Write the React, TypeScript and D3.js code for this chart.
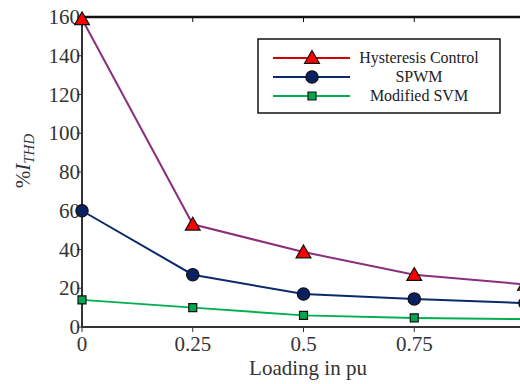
import React, { useEffect, useRef } from 'react';
import * as d3 from 'd3';

const loading = [0, 0.25, 0.5, 0.75, 1];
const hysteresis = [159, 53, 38.7, 27, 22];
const spwm = [60, 27, 17, 14.5, 12.3];
const modifiedSvm = [14, 10, 6, 4.7, 4.1];
const xTicks = [0, 0.25, 0.5, 0.75];
const yTicks = [0, 20, 40, 60, 80, 100, 120, 140, 160];

const W = 520;
const H = 384;
const FONT = "'Liberation Serif', 'Times New Roman', Times, serif";

const App: React.FC = () => {
  const svgRef = useRef<SVGSVGElement>(null);

  useEffect(() => {
    if (!svgRef.current) return;
    const svg = d3.select(svgRef.current);
    svg.selectAll('*').remove();

    const x = d3.scaleLinear().domain([0, 1]).range([82, 525]);
    const y = d3.scaleLinear().domain([0, 160]).range([327, 17]);

    // frame (top border + mirrored ticks)
    svg.append('line')
      .attr('x1', x(0)).attr('x2', 540)
      .attr('y1', y(160)).attr('y2', y(160))
      .attr('stroke', '#111').attr('stroke-width', 2.5);
    svg.append('g')
      .selectAll('line')
      .data(xTicks.slice(1))
      .enter()
      .append('line')
      .attr('x1', d => x(d)).attr('x2', d => x(d))
      .attr('y1', y(160)).attr('y2', y(160) + 5)
      .attr('stroke', '#111').attr('stroke-width', 1);

    // x axis
    const xAxis = svg.append('g').attr('transform', `translate(0,${y(0)})`);
    xAxis.append('line')
      .attr('x1', x(0)).attr('x2', 540)
      .attr('stroke', '#333').attr('stroke-width', 2);
    xAxis.selectAll('line.tick')
      .data(xTicks)
      .enter()
      .append('line')
      .attr('class', 'tick')
      .attr('x1', d => x(d)).attr('x2', d => x(d))
      .attr('y1', 0).attr('y2', 5)
      .attr('stroke', '#333').attr('stroke-width', 1);
    xAxis.selectAll('text')
      .data(xTicks)
      .enter()
      .append('text')
      .attr('x', d => x(d))
      .attr('y', 24)
      .attr('text-anchor', 'middle')
      .attr('font-family', FONT)
      .attr('font-size', 21)
      .attr('fill', '#333')
      .text(d => String(d));

    // y axis
    const yAxis = svg.append('g').attr('transform', `translate(${x(0)},0)`);
    yAxis.append('line')
      .attr('y1', y(0) + 1).attr('y2', y(160))
      .attr('stroke', '#333').attr('stroke-width', 2);
    yAxis.selectAll('line.tick')
      .data(yTicks)
      .enter()
      .append('line')
      .attr('class', 'tick')
      .attr('x1', -5).attr('x2', 0)
      .attr('y1', d => y(d)).attr('y2', d => y(d))
      .attr('stroke', '#333').attr('stroke-width', 1);
    yAxis.selectAll('text')
      .data(yTicks)
      .enter()
      .append('text')
      .attr('x', -2)
      .attr('y', d => y(d) + 7)
      .attr('text-anchor', 'end')
      .attr('font-family', FONT)
      .attr('font-size', 21)
      .attr('fill', '#333')
      .text(d => String(d));

    // axis titles
    svg.append('text')
      .attr('x', 308).attr('y', 375)
      .attr('text-anchor', 'middle')
      .attr('font-family', FONT)
      .attr('font-size', 21)
      .attr('fill', '#333')
      .text('Loading in pu');

    const yl = svg.append('text')
      .attr('transform', 'translate(30,161) rotate(-90)')
      .attr('text-anchor', 'middle')
      .attr('font-family', FONT)
      .attr('font-size', 21)
      .attr('fill', '#333');
    yl.append('tspan').text('%');
    yl.append('tspan').attr('font-style', 'italic').text('I');
    yl.append('tspan').attr('font-style', 'italic').attr('font-size', 15).attr('dy', 4).text('THD');

    const series = [
      { name: 'Hysteresis Control', values: hysteresis, line: '#8a2f7e', legendLine: '#d40000', fill: '#ff0000', shape: 'tri' },
      { name: 'SPWM', values: spwm, line: '#0b2a6b', legendLine: '#0b2a6b', fill: '#0a2060', shape: 'circle' },
      { name: 'Modified SVM', values: modifiedSvm, line: '#00b050', legendLine: '#00b050', fill: '#00a84f', shape: 'square' },
    ];

    const line = d3.line<number>()
      .x((_, i) => x(loading[i]))
      .y(d => y(d));

    const symbolFor = (shape: string) => {
      if (shape === 'tri') return d3.symbol().type(d3.symbolTriangle).size(95)();
      if (shape === 'circle') return d3.symbol().type(d3.symbolCircle).size(120)();
      return d3.symbol().type(d3.symbolSquare).size(64)();
    };

    series.forEach(s => {
      svg.append('path')
        .datum(s.values)
        .attr('d', line)
        .attr('fill', 'none')
        .attr('stroke', s.line)
        .attr('stroke-width', 2);
    });

    series.forEach(s => {
      svg.append('g')
        .selectAll('path')
        .data(s.values)
        .enter()
        .append('path')
        .attr('transform', (d, i) => `translate(${x(loading[i])},${y(d) + (s.shape === 'tri' ? 1.5 : 0)})`)
        .attr('d', symbolFor(s.shape))
        .attr('fill', s.fill)
        .attr('stroke', '#111')
        .attr('stroke-width', 1.2);
    });

    // legend
    const lg = svg.append('g');
    lg.append('rect')
      .attr('x', 258).attr('y', 39)
      .attr('width', 242).attr('height', 74)
      .attr('fill', '#fff')
      .attr('stroke', '#111')
      .attr('stroke-width', 1.5);
    series.forEach((s, i) => {
      const ry = 58 + i * 19;
      lg.append('line')
        .attr('x1', 273).attr('x2', 350)
        .attr('y1', ry).attr('y2', ry)
        .attr('stroke', s.legendLine)
        .attr('stroke-width', 2);
      lg.append('path')
        .attr('transform', `translate(312,${ry + (s.shape === 'tri' ? 1 : 0)})`)
        .attr('d', symbolFor(s.shape))
        .attr('fill', s.fill)
        .attr('stroke', '#111')
        .attr('stroke-width', 1.2);
      lg.append('text')
        .attr('x', 419).attr('y', ry + 5)
        .attr('text-anchor', 'middle')
        .attr('font-family', FONT)
        .attr('font-size', 16)
        .attr('fill', '#222')
        .text(s.name);
    });
  }, []);

  return (
    <svg
      ref={svgRef}
      width={W}
      height={H}
      style={{ position: 'absolute', left: 0, top: 0, background: '#fff' }}
    />
  );
};

export default App;
